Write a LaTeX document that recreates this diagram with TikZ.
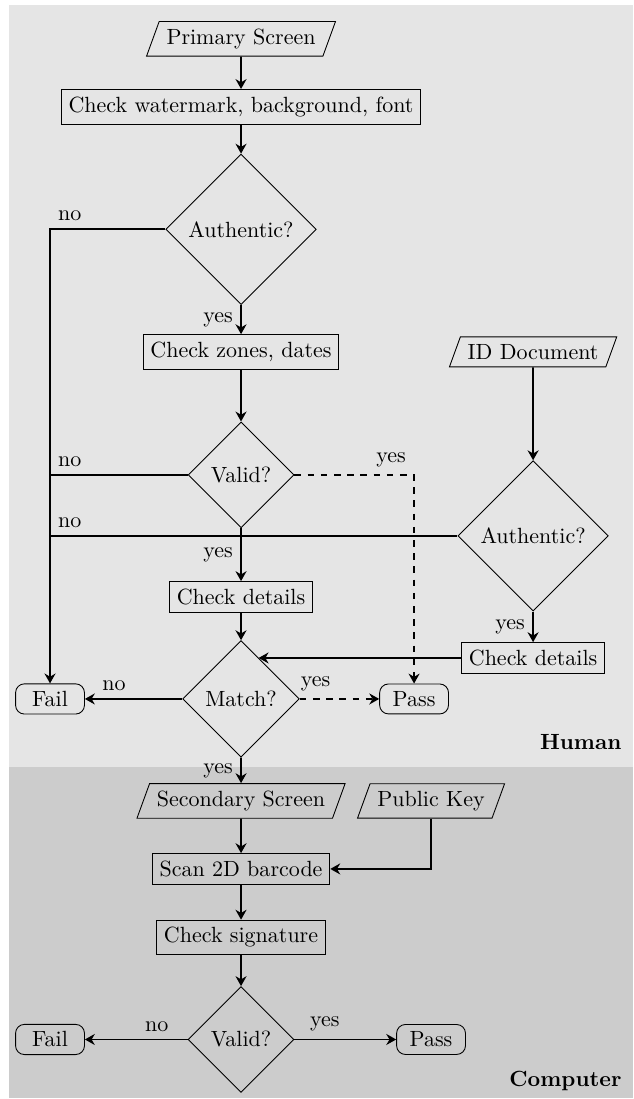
\documentclass[tikz,border=0pt]{standalone}
\usetikzlibrary{calc,shapes.geometric,arrows.meta}
\definecolor{humanbg}{gray}{0.9}
\definecolor{compbg}{gray}{0.8}
\tikzset{
  proc/.style={draw,rectangle},
  io/.style={draw,trapezium,trapezium left angle=70,trapezium right angle=110},
  dec/.style={draw,diamond,aspect=1},
  term/.style={draw,rounded corners=4pt,minimum width=1.1cm},
  flow/.style={-{Stealth[length=4.5pt,width=5pt]},thick},
  branch/.style={thick},
  lane/.style={anchor=east,font=\bfseries},
}
\begin{document}
\begin{tikzpicture}
\useasboundingbox (-3.85,0.62) rectangle (6.262,-16.934);
\fill[humanbg] (-3.71,0.54) rectangle (6.262,-11.63);
\fill[compbg] (-3.71,-11.63) rectangle (6.262,-16.92);
% primary screen, done by a person
\node[io] (prim) at (0,0) {Primary Screen};
\node[proc] (look) at (0,-1.086) {Check watermark, background, font};
\node[dec] (auth) at (0,-3.043) {Authentic?};
\node[proc] (zones) at (0,-5.0) {Check zones, dates};
\node[dec] (valid) at (0,-6.965) {Valid?};
\node[proc] (details) at (0,-8.914) {Check details};
\node[dec] (match) at (0,-10.544) {Match?};
\node[term] (fail) at (-3.051,-10.544) {Fail};
\node[term] (pass) at (2.764,-10.544) {Pass};
\node[io] (iddoc) at (4.665,-5.0) {ID Document};
\node[dec] (idauth) at (4.665,-7.94) {Authentic?};
\node[proc] (iddetails) at (4.665,-9.889) {Check details};
\node[lane] (human) at (6.2,-11.23) {Human};
% secondary screen, done by a machine
\node[io] (second) at (0,-12.173) {Secondary Screen};
\node[io] (pubkey) at (3.035,-12.173) {Public Key};
\node[proc] (scan) at (0,-13.259) {Scan 2D barcode};
\node[proc] (sig) at (0,-14.354) {Check signature};
\node[dec] (sigok) at (0,-15.983) {Valid?};
\node[term] (fail2) at (-3.051,-15.983) {Fail};
\node[term] (pass2) at (3.035,-15.983) {Pass};
\node[lane] (computer) at (6.2,-16.638) {Computer};
\draw[flow] (prim) -- (look);
\draw[flow] (look) -- (auth);
\draw[flow] (auth) -- node[left]{yes} (zones);
\draw[flow] (auth) -| node[pos=0.5,above right]{no} (fail);
\draw[flow] (zones) -- (valid);
\draw[flow] (valid) -- node[left]{yes} (details);
\draw[branch] (valid) -- node[at end,above right]{no} (valid -| fail);
\draw[flow,dashed] (valid) -| node[pos=0.5,above left]{yes} (pass);
\draw[flow] (details) -- (match);
\draw[flow] (match) -- node[pos=0.7,above]{no} (fail);
\draw[flow,dashed] (match) -- node[pos=0.2,above]{yes} (pass);
\draw[flow] (match) -- node[left]{yes} (second);
\draw[flow] (iddoc) -- (idauth);
\draw[flow] (idauth) -- node[left]{yes} (iddetails);
\draw[branch] (idauth) -- node[at end,above right]{no} (idauth -| fail);
\coordinate (hit) at ($(match.north)!0.3!(match.east)$);
\draw[flow] (iddetails) -- (iddetails -| hit);
\draw[flow] (second) -- (scan);
\draw[flow] (pubkey) |- (scan);
\draw[flow] (scan) -- (sig);
\draw[flow] (sig) -- (sigok);
\draw[flow] (sigok) -- node[pos=0.3,above]{no} (fail2);
\draw[flow] (sigok) -- node[pos=0.3,above]{yes} (pass2);
\end{tikzpicture}
\end{document}
